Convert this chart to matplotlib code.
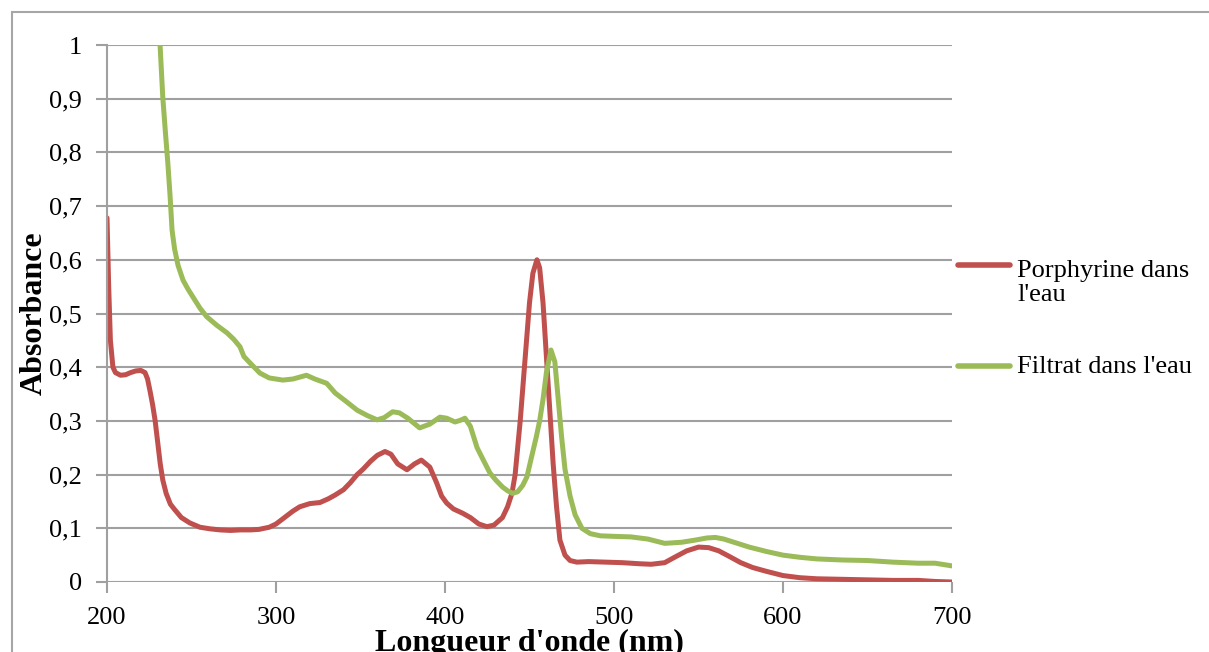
import matplotlib.pyplot as plt
from matplotlib.patches import Rectangle
from matplotlib.lines import Line2D

# Spectra (wavelength nm, absorbance)
wl_porph = [200, 201, 202, 203.5, 205, 208, 211, 214, 217, 220, 222.5, 224, 225.5,
            227, 228.5, 230, 231.5, 233, 235, 237.5, 240, 244, 249, 255, 261, 267,
            273, 279, 285, 290, 296, 300, 305, 310, 314, 320, 326, 331, 335, 340,
            344, 348, 351.5, 356, 360, 364.5, 368, 372, 377.5, 382, 386, 391, 395,
            398, 401, 405, 410.5, 415, 420, 424.8, 429, 434, 437, 439.6, 441.5, 443,
            444.5, 446, 448, 450, 452, 454.4, 456, 458, 460, 462, 464, 466, 468, 471,
            474, 478, 485, 495, 505, 515, 522, 530, 537, 543, 550, 556, 562, 568,
            575, 582, 590, 600, 610, 620, 635, 650, 665, 680, 690, 700]
abs_porph = [0.678, 0.55, 0.45, 0.40, 0.39, 0.385, 0.386, 0.39, 0.393, 0.394, 0.39,
             0.378, 0.355, 0.33, 0.30, 0.26, 0.22, 0.19, 0.165, 0.145, 0.135, 0.12,
             0.11, 0.102, 0.099, 0.097, 0.096, 0.097, 0.097, 0.098, 0.102, 0.108,
             0.12, 0.132, 0.14, 0.146, 0.148, 0.155, 0.162, 0.172, 0.185, 0.2, 0.21,
             0.225, 0.236, 0.243, 0.238, 0.22, 0.209, 0.22, 0.227, 0.214, 0.185,
             0.16, 0.147, 0.136, 0.128, 0.12, 0.108, 0.103, 0.106, 0.12, 0.14, 0.165,
             0.2, 0.25, 0.3, 0.36, 0.44, 0.52, 0.575, 0.6, 0.585, 0.52, 0.42, 0.32,
             0.22, 0.14, 0.078, 0.05, 0.04, 0.037, 0.038, 0.037, 0.036, 0.034, 0.033,
             0.036, 0.048, 0.058, 0.065, 0.064, 0.058, 0.048, 0.036, 0.027, 0.02,
             0.012, 0.008, 0.006, 0.005, 0.004, 0.003, 0.003, 0.001, 0.0]

wl_filt = [231.4, 233, 234.5, 236, 237.3, 238.5, 240, 242, 245, 248, 251, 255, 259,
           265, 271, 275, 278.7, 281, 284.6, 290.5, 296, 304, 310, 318, 323, 330,
           335, 342, 348, 354, 359.8, 364, 369, 373, 378, 385, 391, 397, 401, 405.9,
           409, 411.8, 415, 419, 423, 426.6, 430, 434, 437, 440, 443, 446, 448.5,
           451, 454, 456, 458, 460, 462.7, 465, 467, 469, 471, 474, 477, 481, 486,
           492, 500, 510, 520, 530, 540, 548, 555, 560, 565, 570, 580, 590, 600,
           610, 620, 635, 650, 665, 680, 690, 700]
abs_filt = [1.0, 0.903, 0.84, 0.78, 0.72, 0.655, 0.62, 0.59, 0.562, 0.545, 0.53,
            0.51, 0.494, 0.478, 0.464, 0.452, 0.438, 0.42, 0.408, 0.389, 0.38, 0.376,
            0.378, 0.385, 0.378, 0.37, 0.352, 0.335, 0.32, 0.31, 0.302, 0.306, 0.317,
            0.315, 0.305, 0.287, 0.294, 0.307, 0.305, 0.298, 0.301, 0.305, 0.29, 0.25,
            0.225, 0.203, 0.19, 0.177, 0.17, 0.165, 0.168, 0.18, 0.196, 0.23, 0.27,
            0.3, 0.34, 0.39, 0.432, 0.41, 0.34, 0.27, 0.21, 0.16, 0.125, 0.1, 0.09,
            0.086, 0.085, 0.084, 0.08, 0.072, 0.074, 0.078, 0.082, 0.083, 0.08, 0.075,
            0.065, 0.057, 0.05, 0.046, 0.043, 0.041, 0.04, 0.037, 0.035, 0.035, 0.03]

series = [("Porphyrine dans\nl'eau", wl_porph, abs_porph, "#C0504D"),
          ("Filtrat dans l'eau", wl_filt, abs_filt, "#9BBB59")]

yticks = [0, 0.1, 0.2, 0.3, 0.4, 0.5, 0.6, 0.7, 0.8, 0.9, 1]
ytick_labels = ["0", "0,1", "0,2", "0,3", "0,4", "0,5", "0,6", "0,7", "0,8", "0,9", "1"]
xticks = [200, 300, 400, 500, 600, 700]

plt.rcParams['font.family'] = ['Liberation Serif', 'DejaVu Serif']
grid_col = "#A0A0A0"
W, H = 1209, 652

fig = plt.figure(figsize=(12.09, 6.52), dpi=100)
ax = fig.add_axes([107 / W, 1 - 582 / H, 845 / W, 537 / H])

# outer chart border (runs off the right and bottom edges)
fig.patches.append(Rectangle((12 / W, -0.2), 1.2, 1.2 - 12 / H, transform=fig.transFigure,
                             fill=False, edgecolor="#A6A6A6", linewidth=1.5))

for name, x, y, c in series:
    ax.plot(x, y, color=c, linewidth=3.6, solid_capstyle="round", solid_joinstyle="round")

ax.set_xlim(200, 700)
ax.set_ylim(0, 1)
ax.set_xticks(xticks)
ax.set_yticks(yticks)
ax.set_yticklabels(ytick_labels)
ax.yaxis.grid(True, color=grid_col, linewidth=1.5)
ax.set_axisbelow(True)
for s in ["top", "right", "bottom"]:
    ax.spines[s].set_visible(False)
ax.spines["left"].set_color(grid_col)
ax.spines["left"].set_linewidth(1.5)
ax.tick_params(axis="both", colors=grid_col, width=1.5, length=8,
               labelcolor="black", labelsize=19)
ax.tick_params(axis="y", pad=10)
ax.tick_params(axis="x", pad=10)

ax.set_xlabel("Longueur d'onde (nm)", fontsize=23, fontweight="bold", labelpad=0)
ax.set_ylabel("Absorbance", fontsize=23, fontweight="bold", labelpad=0)

# legend drawn by hand to the right of the plot
leg_y = [265, 366]
text_y = [283, 367]
for (name, x, y, c), ly, ty in zip(series, leg_y, text_y):
    fig.add_artist(Line2D([958 / W, 1010 / W], [1 - ly / H] * 2, color=c,
                          linewidth=4, solid_capstyle="round"))
    fig.text(1017 / W, 1 - ty / H, name, fontsize=19, va="center", ha="left",
             linespacing=1.15)

fig.savefig("out.png", dpi=100)
